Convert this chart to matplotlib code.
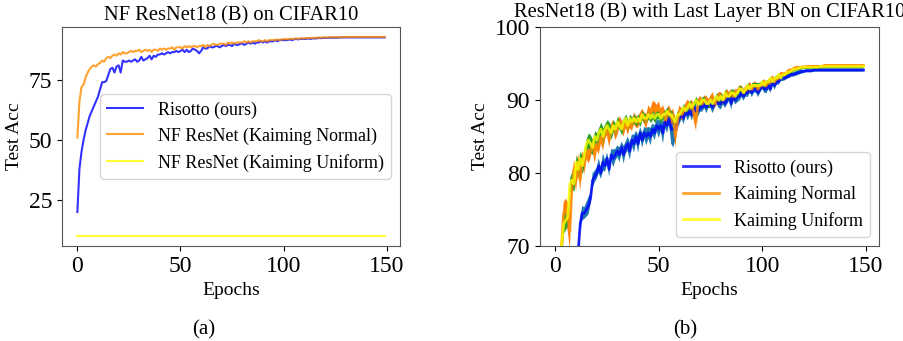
import numpy as np
import matplotlib.pyplot as plt

plt.rcParams['font.family'] = ['Liberation Serif', 'DejaVu Serif']

# (a) NF ResNet18 (B) on CIFAR10
nf_risotto = [20, 38, 45, 50, 54, 57, 60, 62, 64, 66,
              68, 71, 74, 74, 74.5, 77, 79.5, 80, 78, 80.5,
              81, 78, 83, 82.5, 82.5, 83, 82.5, 83, 83.5, 82.5,
              83, 84.5, 83, 83.5, 84, 85, 83.5, 85, 84.5, 85.5,
              85.5, 86, 85.5, 86, 86.5, 86, 86.5, 86.5, 87, 86.5,
              87, 87.5, 86.5, 87.5, 86.5, 87, 88, 87.5, 87, 86,
              87, 88.5, 88, 88, 89, 88.5, 88.5, 89, 89, 88.5,
              89, 89.5, 89, 89.5, 89.5, 89, 90, 89.5, 89.5, 90,
              90, 89.5, 90, 90.5, 90, 90.5, 90, 90.5, 90.5, 91,
              90.5, 91, 90.5, 91, 91, 91, 91.5, 91, 91.5, 91.5,
              91.5, 91.5, 91.5, 91.8, 91.5, 91.8, 92, 91.8, 92, 92,
              92, 92, 92.2, 92, 92.2, 92.2, 92.2, 92.4, 92.3, 92.4,
              92.4, 92.4, 92.5, 92.5, 92.5, 92.5, 92.5, 92.6, 92.6, 92.6,
              92.6, 92.6, 92.6, 92.6, 92.6, 92.6, 92.6, 92.6, 92.6, 92.6,
              92.6, 92.6, 92.6, 92.6, 92.6, 92.6, 92.6, 92.6, 92.6, 92.6]
nf_normal = [51, 66, 72, 73, 76, 78, 79.5, 80.5, 81, 80.5,
             81.5, 82, 83, 82.5, 84, 84.5, 84, 85, 85.5, 85,
             86, 85.5, 86.5, 86, 86, 86.5, 87, 86.5, 87, 87,
             87.5, 86.5, 87, 87.5, 87, 87.5, 86.5, 87.5, 87.5, 87,
             88, 87.5, 88, 87.5, 88, 88, 88.5, 87.5, 88.5, 88.5,
             88.5, 88, 89, 88.5, 89, 88.5, 89, 89, 88.5, 89,
             89, 89.5, 88.5, 89.5, 89, 89.5, 90, 89.5, 89.5, 90,
             90, 90, 89.5, 90.5, 90, 90.5, 90, 90.5, 90.5, 90.5,
             90.5, 91, 90.5, 91, 90.5, 91, 91, 91, 91.5, 91,
             91, 91.5, 91, 91.5, 91.5, 91.5, 91.5, 91.8, 91.5, 91.8,
             91.8, 92, 91.8, 92, 92, 92, 92.2, 92, 92.2, 92.2,
             92.2, 92.3, 92.3, 92.4, 92.4, 92.4, 92.5, 92.5, 92.5, 92.6,
             92.6, 92.6, 92.7, 92.7, 92.7, 92.7, 92.7, 92.7, 92.7, 92.7,
             92.8, 92.8, 92.8, 92.8, 92.8, 92.8, 92.8, 92.8, 92.8, 92.8,
             92.8, 92.8, 92.8, 92.8, 92.8, 92.8, 92.8, 92.8, 92.8, 92.8]
nf_uniform = [10, 10, 10, 10, 10, 10, 10, 10, 10, 10,
              10, 10, 10, 10, 10, 10, 10, 10, 10, 10,
              10, 10, 10, 10, 10, 10, 10, 10, 10, 10,
              10, 10, 10, 10, 10, 10, 10, 10, 10, 10,
              10, 10, 10, 10, 10, 10, 10, 10, 10, 10,
              10, 10, 10, 10, 10, 10, 10, 10, 10, 10,
              10, 10, 10, 10, 10, 10, 10, 10, 10, 10,
              10, 10, 10, 10, 10, 10, 10, 10, 10, 10,
              10, 10, 10, 10, 10, 10, 10, 10, 10, 10,
              10, 10, 10, 10, 10, 10, 10, 10, 10, 10,
              10, 10, 10, 10, 10, 10, 10, 10, 10, 10,
              10, 10, 10, 10, 10, 10, 10, 10, 10, 10,
              10, 10, 10, 10, 10, 10, 10, 10, 10, 10,
              10, 10, 10, 10, 10, 10, 10, 10, 10, 10,
              10, 10, 10, 10, 10, 10, 10, 10, 10, 10]

# (b) ResNet18 (B) with last layer BN, mean and std
bn_risotto = [35, 45, 52, 56, 59, 62, 63, 65, 64, 67,
              68, 69, 73, 74.5, 74.5, 75, 75.5, 76.5, 79, 79.5,
              80, 81, 80, 81.5, 81, 82, 80.5, 82.5, 82, 82.5,
              83, 82.5, 83.5, 82.5, 83.5, 84, 83, 84.5, 84, 85,
              84, 85.5, 84.5, 85.5, 85, 85.5, 85, 86, 85.5, 86.5,
              86, 86.5, 85.5, 87, 86.5, 87.5, 86, 86, 86, 87,
              87.5, 88, 87.5, 88.5, 88, 88.5, 88, 89, 88.5, 88.5,
              89, 89, 89.5, 89, 89.5, 89.5, 89, 89.5, 90, 89.5,
              89.5, 90, 89.5, 90, 90.5, 89.5, 90.5, 90, 90.5, 90.5,
              91, 90.5, 91, 91, 91.5, 91, 91.5, 91.5, 91, 91.5,
              92, 91.5, 91.5, 92, 91.5, 92.5, 92, 92.5, 92.5, 93,
              93, 93, 93.2, 93.3, 93.5, 93.5, 93.6, 93.7, 93.8, 93.9,
              93.9, 94, 94, 94, 94, 94.1, 94.1, 94.1, 94.1, 94.1,
              94.1, 94.1, 94.1, 94.1, 94.1, 94.1, 94.1, 94.1, 94.1, 94.1,
              94.1, 94.1, 94.1, 94.1, 94.1, 94.1, 94.1, 94.1, 94.1, 94.1]
bn_risotto_std = [1.5, 1.5, 1.5, 1.5, 1.5, 1.5, 1.5, 1.5, 1.5, 1.2,
                  1.2, 1.2, 1.0, 1.0, 0.8, 1.0, 1.2, 0.8, 1.0, 0.8,
                  0.8, 1.0, 0.8, 1.2, 0.8, 0.8, 1.0, 0.8, 1.2, 0.8,
                  0.8, 1.0, 0.8, 1.2, 0.8, 1.0, 1.2, 0.8, 1.2, 0.8,
                  1.2, 0.8, 1.0, 0.8, 1.2, 0.8, 1.2, 0.8, 1.0, 0.8,
                  1.2, 0.8, 1.5, 0.8, 1.0, 0.8, 2.0, 2.5, 1.5, 1.0,
                  0.8, 0.6, 0.8, 0.6, 0.8, 0.6, 0.8, 0.6, 0.6, 0.8,
                  0.6, 0.6, 0.6, 0.8, 0.6, 0.6, 0.8, 0.6, 0.6, 0.6,
                  0.8, 0.6, 0.6, 0.6, 0.6, 0.8, 0.6, 0.6, 0.8, 0.6,
                  0.6, 0.6, 0.5, 0.6, 0.5, 0.6, 0.5, 0.5, 0.6, 0.5,
                  0.5, 0.5, 0.6, 0.5, 0.5, 0.5, 0.6, 0.4, 0.4, 0.4,
                  0.4, 0.3, 0.3, 0.3, 0.3, 0.3, 0.3, 0.3, 0.3, 0.3,
                  0.2, 0.2, 0.2, 0.2, 0.2, 0.2, 0.2, 0.2, 0.2, 0.2,
                  0.2, 0.2, 0.2, 0.2, 0.2, 0.2, 0.2, 0.2, 0.2, 0.2,
                  0.2, 0.2, 0.2, 0.2, 0.2, 0.2, 0.2, 0.2, 0.2, 0.2]
bn_normal = [50, 60, 66, 70, 74.5, 75, 74, 72, 78, 80.5,
             79, 81.5, 79, 82, 81, 83, 82.5, 83, 84, 82.5,
             84, 83.5, 85, 84, 85.5, 86, 84.5, 86, 86.5, 85.5,
             86, 87, 86.5, 86, 87, 86, 87, 86.5, 87.5, 87,
             87, 87.5, 88, 87.5, 87, 88.5, 88, 89, 89, 88.5,
             89, 88, 88.5, 87.5, 88, 88.5, 87.5, 88, 85, 87,
             88.5, 88, 88.5, 89, 89.5, 89, 89.5, 88, 87, 89.5,
             90, 89.5, 90, 90, 89.5, 90, 90.5, 89.5, 90, 90.5,
             90.5, 90, 90.5, 91, 90.5, 91, 90.5, 91, 91, 91.5,
             91.5, 91, 91.5, 91.5, 92, 91.5, 92, 92, 91.5, 92,
             92, 92.5, 92, 92.5, 92.5, 93, 92.5, 93, 93, 93.5,
             93.5, 93.5, 93.8, 94, 94, 94.2, 94.3, 94.4, 94.4, 94.5,
             94.5, 94.5, 94.6, 94.6, 94.6, 94.6, 94.6, 94.6, 94.6, 94.6,
             94.7, 94.7, 94.7, 94.7, 94.7, 94.7, 94.7, 94.7, 94.7, 94.7,
             94.7, 94.7, 94.7, 94.7, 94.7, 94.7, 94.7, 94.7, 94.7, 94.7]
bn_normal_std = [2.0, 2.0, 2.0, 2.0, 1.5, 1.5, 2.0, 2.5, 1.5, 1.2,
                 1.5, 1.2, 1.5, 1.0, 1.2, 1.0, 1.2, 1.0, 0.8, 1.2,
                 0.8, 1.0, 0.8, 1.0, 0.8, 0.8, 1.0, 0.8, 0.8, 1.0,
                 0.8, 0.8, 0.8, 1.0, 0.8, 0.8, 0.8, 0.8, 0.8, 0.8,
                 0.8, 0.8, 0.8, 0.8, 1.0, 0.8, 0.8, 0.8, 0.8, 0.8,
                 0.8, 0.8, 0.8, 1.0, 0.8, 0.8, 1.0, 0.8, 1.5, 1.0,
                 0.8, 0.8, 0.6, 0.6, 0.6, 0.6, 0.6, 1.0, 1.2, 0.6,
                 0.6, 0.6, 0.6, 0.6, 0.6, 0.6, 0.6, 0.6, 0.6, 0.6,
                 0.6, 0.6, 0.6, 0.5, 0.6, 0.5, 0.6, 0.5, 0.5, 0.5,
                 0.5, 0.5, 0.5, 0.5, 0.5, 0.5, 0.5, 0.5, 0.5, 0.5,
                 0.4, 0.4, 0.4, 0.4, 0.4, 0.4, 0.4, 0.4, 0.4, 0.4,
                 0.3, 0.3, 0.3, 0.3, 0.3, 0.3, 0.3, 0.3, 0.2, 0.2,
                 0.2, 0.2, 0.2, 0.2, 0.2, 0.2, 0.2, 0.2, 0.2, 0.2,
                 0.2, 0.2, 0.2, 0.2, 0.2, 0.2, 0.2, 0.2, 0.2, 0.2,
                 0.2, 0.2, 0.2, 0.2, 0.2, 0.2, 0.2, 0.2, 0.2, 0.2]
bn_uniform = [52, 60, 66, 70, 73, 73.5, 74, 78.5, 79, 78.5,
              81.5, 80.5, 82, 81, 82.5, 84, 84.5, 84, 83.5, 85,
              84.5, 85.5, 86, 85, 86, 86.5, 86, 85.5, 86.5, 86,
              87, 86.5, 86, 87, 87.5, 86.5, 87.5, 87, 87.5, 87,
              87.5, 87, 88, 87.5, 87.5, 88, 87.5, 88, 87.5, 88,
              88, 87.5, 88, 88, 88.5, 88, 88, 87.5, 87, 88,
              88, 88.5, 89, 88.5, 89, 89.5, 89, 89.5, 90, 89.5,
              89.5, 90, 90, 89.5, 89.5, 90, 89.5, 90, 90.5, 90,
              90.5, 90, 91, 90.5, 90.5, 91, 91, 90.5, 91, 91.5,
              91.5, 91, 91.5, 92, 91.5, 92, 92, 92, 92, 92,
              92.5, 92, 92.5, 92.5, 93, 92.5, 93, 93, 93.5, 93,
              93.5, 93.5, 93.8, 93.8, 94, 94.2, 94.2, 94.3, 94.4, 94.5,
              94.5, 94.5, 94.5, 94.5, 94.5, 94.5, 94.5, 94.5, 94.6, 94.6,
              94.6, 94.6, 94.6, 94.6, 94.6, 94.6, 94.6, 94.6, 94.6, 94.6,
              94.6, 94.6, 94.6, 94.6, 94.6, 94.6, 94.6, 94.6, 94.6, 94.6]
bn_uniform_std = [1.5, 1.5, 1.5, 1.5, 1.2, 1.2, 1.0, 1.0, 1.2, 1.0,
                  1.0, 1.2, 1.0, 1.2, 1.0, 0.8, 1.0, 1.2, 1.0, 0.8,
                  1.0, 0.8, 1.0, 1.2, 0.8, 0.8, 1.0, 0.8, 0.8, 0.8,
                  0.8, 0.6, 0.8, 0.6, 0.6, 0.8, 0.6, 0.6, 0.6, 0.6,
                  0.6, 0.6, 0.6, 0.6, 0.6, 0.6, 0.6, 0.6, 0.6, 0.6,
                  0.6, 0.6, 0.6, 0.6, 0.6, 0.6, 0.6, 0.6, 0.6, 0.6,
                  0.5, 0.5, 0.5, 0.5, 0.5, 0.5, 0.5, 0.5, 0.5, 0.5,
                  0.5, 0.5, 0.5, 0.5, 0.5, 0.5, 0.5, 0.5, 0.5, 0.5,
                  0.5, 0.6, 0.5, 0.5, 0.6, 0.5, 0.5, 0.5, 0.6, 0.5,
                  0.4, 0.4, 0.4, 0.4, 0.4, 0.4, 0.4, 0.4, 0.4, 0.4,
                  0.3, 0.3, 0.3, 0.3, 0.3, 0.3, 0.3, 0.3, 0.3, 0.3,
                  0.2, 0.2, 0.2, 0.2, 0.2, 0.2, 0.2, 0.2, 0.2, 0.2,
                  0.2, 0.2, 0.2, 0.2, 0.2, 0.2, 0.2, 0.2, 0.2, 0.2,
                  0.2, 0.2, 0.2, 0.2, 0.2, 0.2, 0.2, 0.2, 0.2, 0.2,
                  0.2, 0.2, 0.2, 0.2, 0.2, 0.2, 0.2, 0.2, 0.2, 0.2]

epochs = np.arange(len(nf_risotto))

fig = plt.figure(figsize=(9.04, 3.41), dpi=100)

# left panel
ax1 = fig.add_axes([0.0686, 0.2786, 0.3739, 0.6422])
ax1.plot(epochs, nf_risotto, color='blue', alpha=0.8, lw=1.5, label='Risotto (ours)')
ax1.plot(epochs, nf_normal, color='darkorange', alpha=0.8, lw=1.5, label='NF ResNet (Kaiming Normal)')
ax1.plot(epochs, nf_uniform, color='yellow', alpha=0.8, lw=1.5, label='NF ResNet (Kaiming Uniform)')
ax1.set_yticks([25, 50, 75])
ax1.set_xticks([0, 50, 100, 150])
ax1.tick_params(labelsize=17)
ax1.set_xlabel('Epochs', fontsize=14)
ax1.set_ylabel('Test Acc', fontsize=14)
ax1.set_title('NF ResNet18 (B) on CIFAR10', fontsize=14.8, pad=5)
ax1.legend(loc='center right', fontsize=13)

# right panel
ax2 = fig.add_axes([0.5973, 0.2786, 0.375, 0.6422])
series = [(bn_risotto, bn_risotto_std, 'blue', 'C0', 'Risotto (ours)'),
          (bn_normal, bn_normal_std, 'darkorange', 'C1', 'Kaiming Normal'),
          (bn_uniform, bn_uniform_std, 'yellow', 'C2', 'Kaiming Uniform')]
for mean, std, col, fcol, lab in series:
    mean = np.array(mean)
    std = np.array(std)
    ax2.plot(epochs, mean, color=col, alpha=0.8, lw=2, label=lab)
    ax2.fill_between(epochs, mean - std, mean + std, color=fcol, lw=0)
ax2.set_ylim(70, 100)
ax2.set_yticks([70, 80, 90, 100])
ax2.set_xticks([0, 50, 100, 150])
ax2.tick_params(labelsize=17)
ax2.set_xlabel('Epochs', fontsize=14)
ax2.set_ylabel('Test Acc', fontsize=14)
ax2.set_title('ResNet18 (B) with Last Layer BN on CIFAR10', fontsize=14.8, pad=7)
ax2.legend(loc='lower right', fontsize=13)

for ax in (ax1, ax2):
    for s in ax.spines.values():
        s.set_color('#555555')

fig.text(0.225, 0.02, '(a)', fontsize=15, ha='center')
fig.text(0.758, 0.02, '(b)', fontsize=15, ha='center')

plt.savefig('out.png', dpi=100)
